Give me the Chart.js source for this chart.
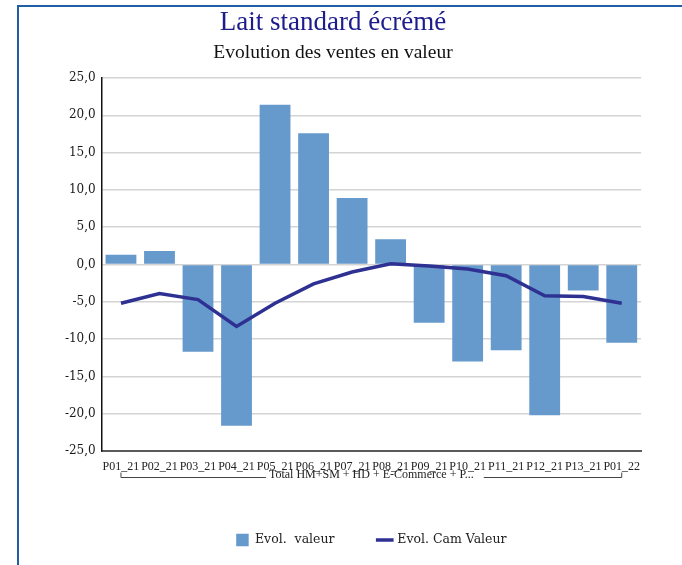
<!DOCTYPE html>
<html>
<head>
<meta charset="utf-8">
<title>Lait standard écrémé</title>
<script src="https://cdn.jsdelivr.net/npm/chart.js@4/dist/chart.umd.min.js"></script>
<style>
  html, body { margin: 0; padding: 0; background: #fff; overflow: hidden; }
  #wrap { position: relative; width: 682px; height: 565px; }
  #frame {
    position: absolute; left: 17px; top: 5px; right: -4px; bottom: -4px;
    border-left: 2px solid #1f5fa8; border-top: 2px solid #1f5fa8;
  }
  canvas { position: absolute; left: 0; top: 0; }
</style>
</head>
<body>
<div id="wrap">
  <div id="frame"></div>
  <canvas id="chart" width="682" height="565"></canvas>
</div>
<script>
'use strict';

var categories = ['P01_21', 'P02_21', 'P03_21', 'P04_21', 'P05_21', 'P06_21', 'P07_21',
  'P08_21', 'P09_21', 'P10_21', 'P11_21', 'P12_21', 'P13_21', 'P01_22'];
var evolValeur = [1.3, 1.8, -11.7, -21.6, 21.4, 17.6, 8.9, 3.4, -7.8, -13.0, -11.5, -20.2, -3.5, -10.5];
var evolCamValeur = [-5.2, -3.9, -4.7, -8.3, -5.2, -2.6, -1.0, 0.1, -0.2, -0.6, -1.5, -4.2, -4.3, -5.2];
var groupLabel = 'Total HM+SM + HD + E-Commerce + P...';
var yMin = -25, yMax = 25, yStep = 5;

var serif = '"Liberation Serif", "Times New Roman", serif';
var wideSerif = '"DejaVu Serif", serif';

// bracket + group name under the category labels
var groupBracket = {
  id: 'groupBracket',
  afterDraw: function(chart) {
    var x = chart.scales.x, ctx = chart.ctx;
    var left = x.getPixelForValue(0), right = x.getPixelForValue(categories.length - 1);
    var mid = (left + right) / 2, yLine = 477.5, yTop = 472.5;
    ctx.save();
    ctx.font = '12px ' + serif;
    ctx.fillStyle = '#222';
    ctx.textAlign = 'center';
    ctx.textBaseline = 'middle';
    var w = ctx.measureText(groupLabel).width;
    ctx.fillText(groupLabel, mid, 475);
    ctx.strokeStyle = '#444';
    ctx.lineWidth = 1;
    ctx.beginPath();
    ctx.moveTo(left, yTop);
    ctx.lineTo(left, yLine);
    ctx.lineTo(mid - w / 2 - 3, yLine);
    ctx.moveTo(mid + w / 2 + 10, yLine);
    ctx.lineTo(right, yLine);
    ctx.lineTo(right, yTop);
    ctx.stroke();
    ctx.restore();
  }
};

var chart = new Chart(document.getElementById('chart'), {
  data: {
    labels: categories,
    datasets: [{
      type: 'bar',
      label: 'Evol.  valeur',
      data: evolValeur,
      backgroundColor: '#6699cc',
      borderWidth: 0,
      barPercentage: 0.8,
      categoryPercentage: 1,
      pointStyle: 'rect',
      order: 1
    }, {
      type: 'line',
      label: 'Evol. Cam Valeur',
      data: evolCamValeur,
      borderColor: '#2e3192',
      backgroundColor: '#2e3192',
      borderWidth: 3.5,
      tension: 0,
      pointRadius: 0,
      pointStyle: 'line',
      order: 0
    }]
  },
  options: {
    responsive: false,
    animation: false,
    layout: { padding: { left: 25, right: 41, top: 0, bottom: 8.75 } },
    scales: {
      x: {
        grid: { display: false, drawTicks: false },
        border: { display: true, color: '#5a5a5a', width: 2 },
        ticks: {
          color: '#222', padding: 9, maxRotation: 0, autoSkip: false,
          font: { family: serif, size: 12 }
        },
        afterFit: function(scale) { scale.height = 38.75; }
      },
      y: {
        min: yMin,
        max: yMax,
        grid: { color: '#d4d4d4', lineWidth: 1.5, drawTicks: false },
        border: { display: true, color: '#111', width: 1.5 },
        ticks: {
          stepSize: yStep, color: '#1a1a1a', padding: 6,
          font: { family: wideSerif, size: 12 },
          callback: function(v) { return v.toFixed(1).replace('.', ','); }
        },
        afterFit: function(scale) { scale.width = 76.7; }
      }
    },
    plugins: {
      title: {
        display: true,
        text: 'Lait standard écrémé',
        color: '#1c1c8c',
        font: { family: serif, size: 27, weight: 'normal' },
        padding: { top: 7, bottom: 0 }
      },
      subtitle: {
        display: true,
        text: 'Evolution des ventes en valeur',
        color: '#111',
        font: { family: serif, size: 19.5 },
        padding: { top: 2, bottom: 13.2 }
      },
      legend: {
        position: 'bottom',
        fullSize: false,
        labels: {
          usePointStyle: true,
          padding: 44,
          color: '#222',
          font: { family: wideSerif, size: 12.5 },
          sort: function(a, b) { return a.datasetIndex - b.datasetIndex; }
        }
      },
      tooltip: { enabled: false }
    }
  },
  plugins: [groupBracket]
});
</script>
</body>
</html>
